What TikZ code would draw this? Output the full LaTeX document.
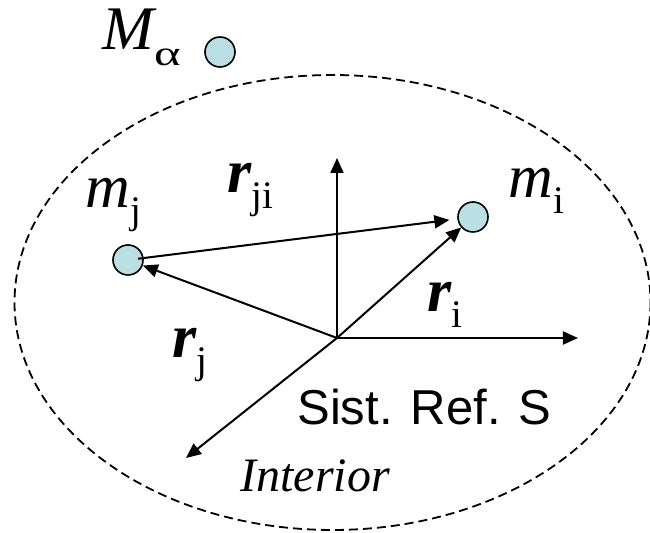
\documentclass[tikz,border=0pt]{standalone}
\usepackage{fontspec}
\setmainfont{Liberation Serif}
\newfontfamily\arialfont{Liberation Sans}
\usepackage{xcolor}
\usepackage{tikz}
\usetikzlibrary{arrows.meta, shapes.geometric}

\definecolor{masscol}{RGB}{187,224,227}
\newcommand{\subtxt}[1]{\raisebox{-8pt}{\fontsize{19.5}{19.5}\selectfont\upshape\mdseries #1}}

\begin{document}
\begin{tikzpicture}[
    x=0.5pt, y=-0.5pt,
    mass/.style={draw, circle, fill=masscol, minimum size=15pt, inner sep=0pt, line width=0.8pt},
    lbl/.style={anchor=base west, inner sep=0pt, font=\fontsize{31}{31}\selectfont\itshape},
    arrow/.style={line width=1pt, -{Triangle[length=7.5pt,width=6.5pt]}},
    border/.style={dashed, dash pattern=on 4.5pt off 2.5pt, line width=0.9pt}
]
\useasboundingbox (0,0) rectangle (650,533);

% system boundary
\draw[border] (332.5,302.5) ellipse [x radius=318, y radius=227.5];

% reference frame
\coordinate (O) at (337,338);
\coordinate (xend) at (578,338);
\coordinate (yend) at (337,158);
\coordinate (zend) at (186,458);
\draw[arrow] (O) -- (xend);
\draw[arrow] (O) -- (yend);
\draw[arrow] (O) -- (zend);

% masses
\node[mass] (Ma) at (220,52) {};
\node[mass] (mj) at (128,260) {};
\node[mass] (mi) at (473,217) {};

% position vectors
\draw[arrow] (O) -- (mi);
\draw[arrow] (O) -- (mj);
\draw[arrow, shorten <=5pt, shorten >=4pt] (mj.center) -- (mi);

% labels
\node[lbl] (Malbl) at (102,50) {M\subtxt{\scalebox{1.3}[0.9]{α}}};
\node[lbl] (mjlbl) at (85,208) {m\subtxt{j}};
\node[lbl] (milbl) at (508,198) {m\subtxt{i}};
\node[lbl] (rjilbl) at (227,193) {\textbf{r}\subtxt{ji}};
\node[lbl] (rilbl) at (427,312) {\textbf{r}\subtxt{i}};
\node[lbl] (rjlbl) at (172,358) {\textbf{r}\subtxt{j}};
\node[anchor=base west, inner sep=0pt, font=\arialfont\fontsize{24.5}{24.5}\selectfont] (sref) at (297,425) {Sist. Ref. S};
\node[anchor=base west, inner sep=0pt, font=\fontsize{24}{24}\selectfont\itshape] (intlbl) at (240,492) {Interior};
\end{tikzpicture}
\end{document}
